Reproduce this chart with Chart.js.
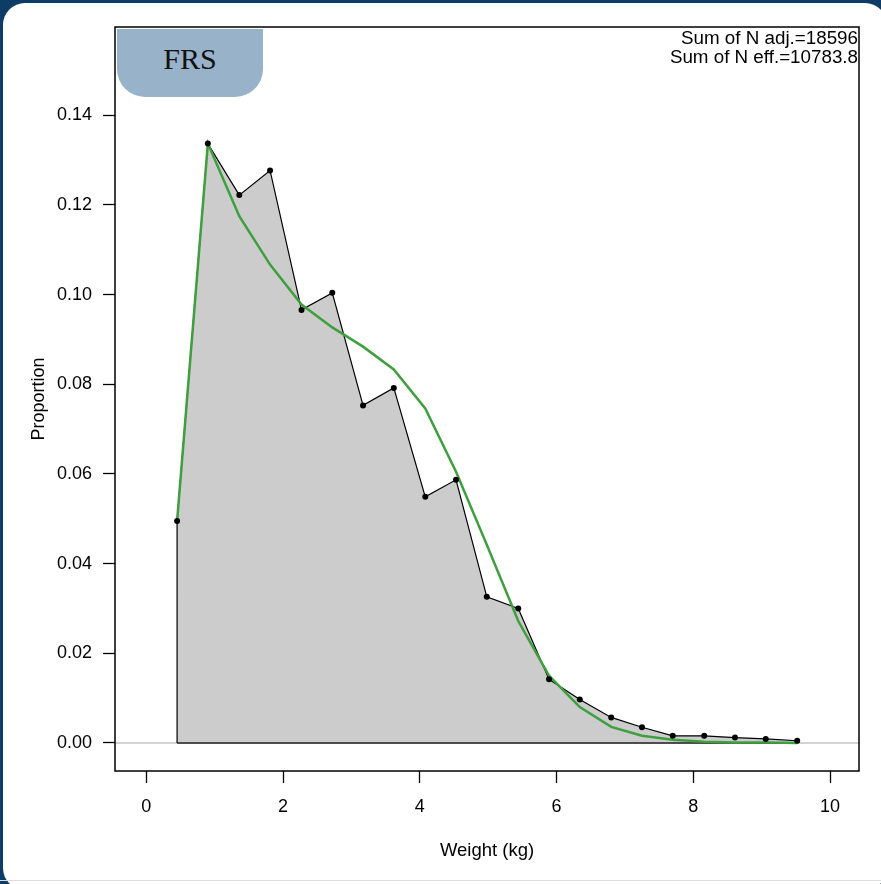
<!DOCTYPE html>
<html>
<head>
<meta charset="utf-8">
<script src="https://cdn.jsdelivr.net/npm/chart.js@4"></script>
<style>
  html, body { margin: 0; padding: 0; }
  body { width: 881px; height: 884px; background: #0d3c66; position: relative; overflow: hidden; }
  #panel { position: absolute; left: 3px; top: 3px; width: 884px; height: 887px; background: #fff; border-radius: 22px; }
  #baseline { position: absolute; left: 0; top: 880px; width: 881px; height: 1px; background: #dcdcdc; }
  #wrap { position: absolute; left: 0; top: 0; width: 881px; height: 884px; }
  #badge { position: absolute; left: 117px; top: 29px; width: 146px; height: 68px; background: #98b2c9;
           border-radius: 0 0 28px 28px; text-align: center; font-family: "Liberation Serif", serif;
           font-size: 30px; line-height: 60px; color: #111; }
  #sums { position: absolute; right: 23px; top: 29px; text-align: right; font-family: "Liberation Sans", Arial, sans-serif;
          font-size: 18.8px; line-height: 18.5px; color: #000; }
</style>
</head>
<body>
<div id="panel"></div>
<div id="baseline"></div>
<div id="wrap"><canvas id="grafica"></canvas></div>
<div id="badge">FRS</div>
<div id="sums">Sum of N adj.=18596<br>Sum of N eff.=10783.8</div>
<script>
// datos
const pesos = [0.45, 0.90, 1.36, 1.81, 2.27, 2.72, 3.17, 3.62, 4.08, 4.53, 4.98, 5.44, 5.89, 6.34, 6.80, 7.25, 7.70, 8.16, 8.61, 9.06, 9.52];
const observado = [0.0495, 0.1337, 0.1222, 0.1277, 0.0966, 0.1004, 0.0753, 0.0792, 0.0549, 0.0587, 0.0326,
                   0.0300, 0.0142, 0.0097, 0.0057, 0.0035, 0.0016, 0.0016, 0.0012, 0.0009, 0.0005];
const ajustado = [0.0495, 0.1337, 0.1175, 0.1067, 0.0978, 0.0927, 0.0884, 0.0833, 0.0746, 0.0605, 0.0442,
                  0.0272, 0.0150, 0.0080, 0.0036, 0.0016, 0.0007, 0.0003, 0.0001, 0.0001, 0.0000];
const ticksX = [0, 2, 4, 6, 8, 10];
const ticksY = [0, 0.02, 0.04, 0.06, 0.08, 0.10, 0.12, 0.14];

const fuente = "'Liberation Sans', Arial, sans-serif";

// area gris: sube desde cero, sigue la curva observada y baja a cero
const puntosObs = pesos.map((x, i) => ({ x: x, y: observado[i] }));
const poligono = [{ x: pesos[0], y: 0 }, ...puntosObs, { x: pesos[pesos.length - 1], y: 0 }];
const base = [{ x: pesos[0], y: 0 }, { x: pesos[pesos.length - 1], y: 0 }];
const puntosAjus = pesos.map((x, i) => ({ x: x, y: ajustado[i] }));

// linea gris en y = 0 y marco del grafico
const marcoPlugin = {
    id: 'marco',
    beforeDatasetsDraw(chart) {
        const { ctx, chartArea: a, scales } = chart;
        const y0 = scales.y.getPixelForValue(0);
        ctx.save();
        ctx.strokeStyle = '#c4c4c4';
        ctx.lineWidth = 1.5;
        ctx.beginPath();
        ctx.moveTo(a.left, y0);
        ctx.lineTo(a.right, y0);
        ctx.stroke();
        ctx.restore();
    },
    afterDraw(chart) {
        const { ctx, chartArea: a } = chart;
        ctx.save();
        ctx.strokeStyle = '#000';
        ctx.lineWidth = 1.5;
        ctx.strokeRect(a.left, a.top, a.right - a.left, a.bottom - a.top);
        ctx.restore();
    }
};

new Chart(document.getElementById('grafica'), {
    type: 'line',
    data: {
        datasets: [
            { data: puntosObs, showLine: false, pointRadius: 3, pointBackgroundColor: '#000', pointBorderWidth: 0, order: 0 },
            { data: puntosAjus, borderColor: '#3f9f3f', borderWidth: 2.5, pointRadius: 0, fill: false, order: 1 },
            { data: base, borderColor: '#222', borderWidth: 1.5, pointRadius: 0, fill: false, order: 2 },
            { data: poligono, borderColor: '#000', borderWidth: 1.2, backgroundColor: '#cccccc', fill: 'origin', pointRadius: 0, order: 3 }
        ]
    },
    options: {
        responsive: true, maintainAspectRatio: false, animation: false,
        layout: { padding: { left: 0, top: 27, right: 22, bottom: 0 } },
        plugins: { legend: { display: false }, tooltip: { enabled: false } },
        scales: {
            x: {
                type: 'linear', min: -0.458, max: 10.424,
                afterBuildTicks: s => { s.ticks = ticksX.map(v => ({ value: v })); },
                afterFit: s => { s.height = 113; },
                grid: { drawOnChartArea: false, tickLength: 12, tickColor: '#000', tickWidth: 1.3 },
                border: { display: false },
                ticks: { padding: 13, color: '#000', font: { family: fuente, size: 18 }, callback: v => String(v) },
                title: { display: true, text: 'Weight (kg)', color: '#000', font: { family: fuente, size: 18.5 }, padding: { top: 0, bottom: 22 } }
            },
            y: {
                type: 'linear', min: -0.00625, max: 0.1597,
                afterBuildTicks: s => { s.ticks = ticksY.map(v => ({ value: v })); },
                afterFit: s => { s.width = 115; },
                grid: { drawOnChartArea: false, tickLength: 12, tickColor: '#000', tickWidth: 1.3 },
                border: { display: false },
                ticks: { padding: 11, color: '#000', font: { family: fuente, size: 18 }, callback: v => v.toFixed(2) },
                title: { display: true, text: 'Proportion', color: '#000', font: { family: fuente, size: 18 }, padding: { top: 28, bottom: 0 } }
            }
        }
    },
    plugins: [marcoPlugin]
});
</script>
</body>
</html>
